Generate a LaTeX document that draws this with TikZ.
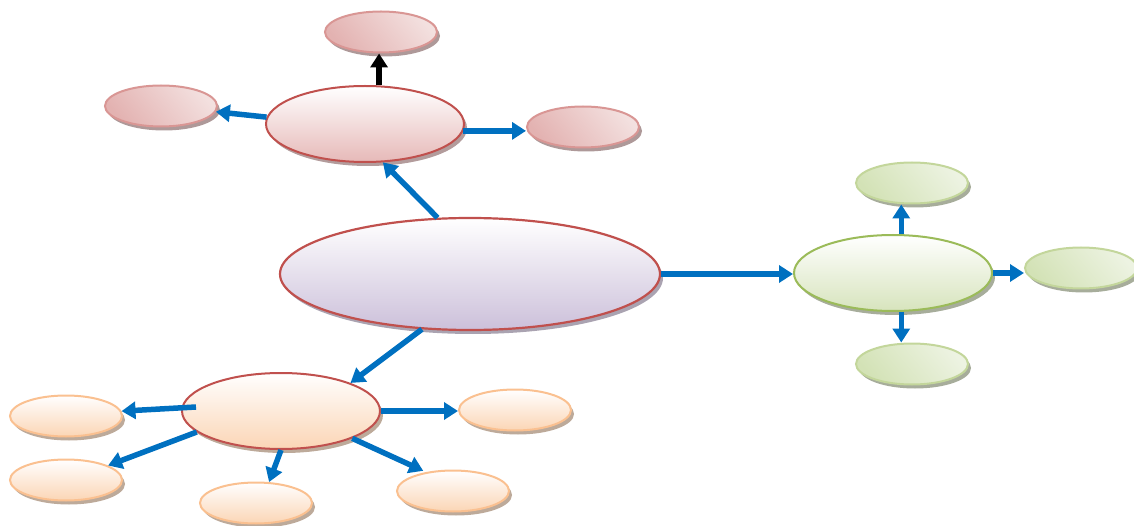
\documentclass[tikz,border=0pt]{standalone}
\usetikzlibrary{shapes.geometric,shadows,arrows.meta}
\definecolor{bluearr}{HTML}{0070C0}
\definecolor{redb}{HTML}{C0504D}
\definecolor{pinkb}{HTML}{D99694}
\definecolor{pinkd}{HTML}{E3B2B1}
\definecolor{pinkl}{HTML}{F3E0DF}
\definecolor{pinkp}{HTML}{E6B9B8}
\definecolor{lav}{HTML}{CCC0DA}
\definecolor{greenb}{HTML}{9BBB59}
\definecolor{greensb}{HTML}{C3D69B}
\definecolor{greend}{HTML}{D3E2B6}
\definecolor{greenl}{HTML}{EDF3E2}
\definecolor{greenp}{HTML}{D7E4BD}
\definecolor{orb}{HTML}{FAC090}
\definecolor{orp}{HTML}{FBD5B5}
\tikzset{
  oval/.style={ellipse, inner sep=0pt, line width=2pt},
  bigoval/.style={oval, minimum width=198pt, minimum height=76pt},
  smalloval/.style={oval, minimum width=112pt, minimum height=41pt},
  shad/.style={drop shadow={shadow xshift=3pt, shadow yshift=-4pt, fill=#1, opacity=1}},
  mainnode/.style={oval, line width=2.2pt, minimum width=380pt, minimum height=112pt, draw=redb,
    shading=axis, top color=white, bottom color=lav, shad={lav!55!gray}},
  redparent/.style={bigoval, draw=redb, shading=axis, top color=white, bottom color=pinkp, shad={pinkp!50!gray}},
  redleaf/.style={smalloval, draw=pinkb, shading=axis, top color=pinkl, bottom color=pinkd, shading angle=-50, shad={pinkp!45!gray}},
  greenparent/.style={bigoval, draw=greenb, shading=axis, top color=white, bottom color=greenp, shad={greenp!45!gray}},
  greenleaf/.style={smalloval, draw=greensb, shading=axis, top color=greenl, bottom color=greend, shading angle=-50, shad={greenp!45!gray}},
  orparent/.style={bigoval, draw=redb, shading=axis, top color=white, bottom color=orp, shad={orp!50!gray}},
  orleaf/.style={smalloval, draw=orb, shading=axis, top color=white, bottom color=orp, shad={orp!50!gray}},
  conn/.style={line width=5.5pt, draw=bluearr, -{Triangle[length=14pt,width=17pt]}},
  blackconn/.style={line width=5.5pt, draw=black, -{Triangle[length=14pt,width=17pt]}},
}
\begin{document}
\begin{tikzpicture}[x=1pt,y=-1pt]
\useasboundingbox (0,0) rectangle (1134,526);
% nodes
\node[mainnode] (main) at (470,274) {};
\node[redparent] (tp) at (365,124) {};
\node[redleaf] (tt) at (381,32) {};
\node[redleaf] (tl) at (161,106) {};
\node[redleaf] (tr) at (583,127) {};
\node[greenparent] (gp) at (893,273) {};
\node[greenleaf] (gt) at (912,183) {};
\node[greenleaf] (gr) at (1081,268) {};
\node[greenleaf] (gb) at (912,364) {};
\node[orparent] (op) at (281,411) {};
\node[orleaf] (ol1) at (66,416) {};
\node[orleaf] (ol2) at (66,480) {};
\node[orleaf] (ob) at (256,503) {};
\node[orleaf] (orr) at (515,410) {};
\node[orleaf] (obr) at (453,491) {};
% connectors
\draw[conn] (main.120) -- (tp.-65);
\draw[conn] (main.east) -- (main.east -| gp.west);
\draw[conn] (main.-131) -- (op.22);
\draw[blackconn] (tp.70) -- (tp.70 |- tt.south);
\draw[conn] (tp.176) -- (tl.-6);
\draw[conn] (tp.-4) -- (tp.-4 -| tr.west);
\draw[conn] (gp.78) -- (gp.78 |- gt.south);
\draw[conn] (gp.east) -- (gp.east -| gr.west);
\draw[conn] (gp.-78) -- (gp.-78 |- gb.north);
\draw[conn] ([shift={(15,-4)}]op.west) -- (ol1.5);
\draw[conn] (op.194) -- (ol2.19);
\draw[conn] (op.south) -- (ob.58);
\draw[conn] (op.east) -- (op.east -| orr.west);
\draw[conn, shorten >=3pt] (op.-21) -- (obr.145);
\end{tikzpicture}
\end{document}
